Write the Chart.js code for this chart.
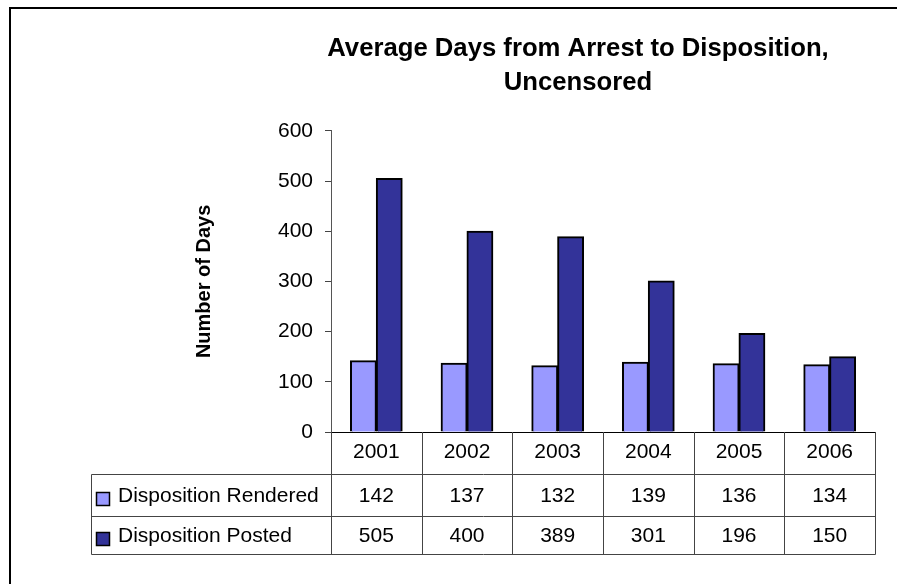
<!DOCTYPE html>
<html>
<head>
<meta charset="utf-8">
<title>Average Days from Arrest to Disposition</title>
<script src="https://cdn.jsdelivr.net/npm/chart.js"></script>
<style>
  html, body { margin: 0; padding: 0; background: #fff; overflow: hidden; }
  #wrap { position: relative; width: 897px; height: 584px; overflow: hidden; }
  #frame { position: absolute; left: 9px; top: 7px; width: 1000px; height: 700px;
           border-left: 2px solid #000; border-top: 2px solid #000; }
  #chart1 { position: absolute; left: 0; top: 0; }
</style>
</head>
<body>
<div id="wrap">
  <div id="frame"></div>
  <canvas id="chart1" width="897" height="584"></canvas>
</div>
<script>
var years = ["2001", "2002", "2003", "2004", "2005", "2006"];
var rendered = [142, 137, 132, 139, 136, 134];
var posted = [505, 400, 389, 301, 196, 150];
var yMin = 0, yMax = 600, yStep = 100;

// title is centred over the plot+axis, not the whole box
var titleShift = {
    id: "titleShift",
    afterLayout: function (chart) {
        chart.titleBlock.left += 89;
    }
};

// excel style data table under the x axis
var dataTable = {
    id: "dataTable",
    afterDraw: function (chart) {
        var ctx = chart.ctx;
        var xs = chart.scales.x;
        var half = (xs.getPixelForValue(1) - xs.getPixelForValue(0)) / 2;
        var edges = years.map(function (y, i) { return xs.getPixelForValue(i) - half; });
        edges.push(xs.getPixelForValue(years.length - 1) + half);
        var top = chart.chartArea.bottom;
        var rows = [474.5, 516.5, 554.5];
        var left = 91.5;
        var right = Math.round(edges[edges.length - 1]) + 0.5;

        ctx.save();
        ctx.strokeStyle = "#444";
        ctx.lineWidth = 1;
        ctx.beginPath();
        rows.forEach(function (r) {
            ctx.moveTo(left, r);
            ctx.lineTo(right, r);
        });
        ctx.moveTo(left, rows[0]);
        ctx.lineTo(left, rows[2]);
        edges.forEach(function (e) {
            var px = Math.round(e) + 0.5;
            ctx.moveTo(px, top);
            ctx.lineTo(px, rows[2]);
        });
        ctx.stroke();

        ctx.font = "21px 'Liberation Sans', Arial, sans-serif";
        ctx.textBaseline = "middle";
        chart.data.datasets.forEach(function (ds, r) {
            var cy = (rows[r] + rows[r + 1]) / 2;
            ctx.fillStyle = ds.backgroundColor;
            ctx.fillRect(96.5, cy - 3, 13, 13);
            ctx.strokeStyle = "#000";
            ctx.lineWidth = 1.5;
            ctx.strokeRect(96.5, cy - 3, 13, 13);
            ctx.fillStyle = "#000";
            ctx.textAlign = "left";
            ctx.fillText(ds.label, 118, cy + 1);
            ctx.textAlign = "center";
            ds.data.forEach(function (v, i) {
                ctx.fillText(v, xs.getPixelForValue(i), cy + 1);
            });
        });
        ctx.restore();
    }
};

Chart.defaults.font.family = "'Liberation Sans', Arial, sans-serif";
Chart.defaults.color = "#000";

var ctx_chart1 = document.getElementById("chart1").getContext("2d");
var chart1 = new Chart(ctx_chart1, {
    type: "bar",
    data: {
        labels: years,
        datasets: [{
            label: "Disposition Rendered",
            data: rendered,
            backgroundColor: "#9999FF",
            borderColor: "#000",
            borderWidth: 2,
            inflateAmount: 0.5,
            categoryPercentage: 0.57,
            barPercentage: 1
        }, {
            label: "Disposition Posted",
            data: posted,
            backgroundColor: "#333399",
            borderColor: "#000",
            borderWidth: 2,
            inflateAmount: 0.5,
            categoryPercentage: 0.57,
            barPercentage: 1
        }]
    },
    options: {
        responsive: false,
        devicePixelRatio: 1,
        animation: false,
        layout: {
            padding: { left: 192, right: 22, top: 0, bottom: 110 }
        },
        plugins: {
            legend: { display: false },
            tooltip: { enabled: false },
            title: {
                display: true,
                text: ["Average Days from Arrest to Disposition,", "Uncensored"],
                color: "#000",
                font: { size: 25.7, weight: "bold", lineHeight: 1.32 },
                padding: { top: 32, bottom: 31 }
            }
        },
        scales: {
            x: {
                grid: { display: false, drawTicks: false },
                border: { display: true, color: "#000", width: 1 },
                ticks: { font: { size: 21 }, color: "#000", padding: 8 },
                afterFit: function (s) { s.height = 42; }
            },
            y: {
                min: yMin,
                max: yMax,
                ticks: { stepSize: yStep, font: { size: 21 }, color: "#000", padding: 12 },
                grid: { drawOnChartArea: false, tickLength: 6, color: "#444" },
                border: { color: "#555" },
                title: {
                    display: true,
                    text: "Number of Days",
                    color: "#000",
                    font: { size: 20, weight: "bold" },
                    padding: 0
                },
                afterFit: function (s) { s.width = 139; }
            }
        }
    },
    plugins: [titleShift, dataTable]
});
</script>
</body>
</html>
